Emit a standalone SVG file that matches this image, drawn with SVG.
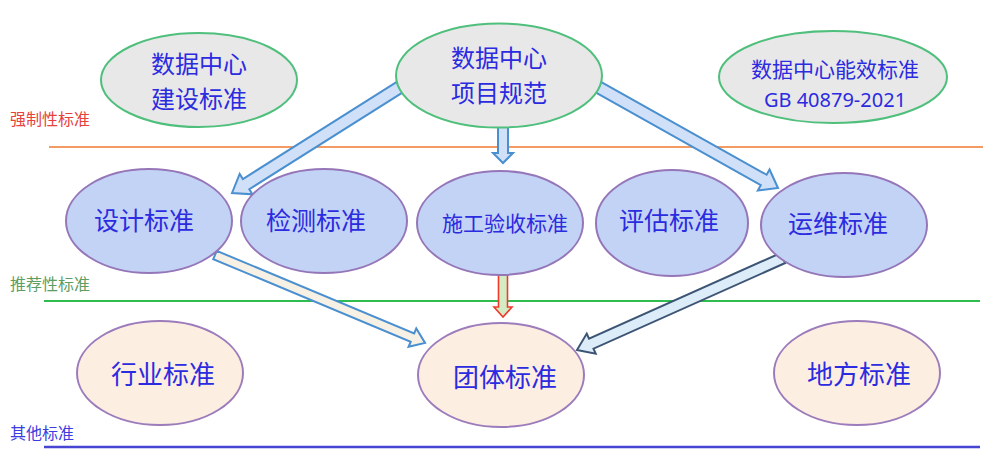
<svg xmlns="http://www.w3.org/2000/svg" width="1000" height="453" viewBox="0 0 1000 453">
<style>
text{font-family:"Noto Sans CJK SC","Noto Sans",sans-serif;}
.t{fill:#2b2be0;text-anchor:middle;dominant-baseline:central;}
.lat{font-family:"Noto Sans","Noto Sans CJK SC",sans-serif;}
.top{fill:#e8e8e8;stroke:#4fbf7c;stroke-width:2;}
.mid{fill:#c3d3f5;stroke:#9576b8;stroke-width:2;}
.bot{fill:#fdeee2;stroke:#9d7cbc;stroke-width:2;}
.lbl{font-size:16px;}
.a1{fill:#cfe0f8;stroke:#4a8fcf;stroke-width:2;stroke-linejoin:miter;}
.a4{fill:#f6f1e4;stroke:#4a8fcf;stroke-width:2;}
.a5{fill:#d4ecc4;stroke:#ee3b2c;stroke-width:1.6;}
.a6{fill:#dcecf8;stroke:#3d5574;stroke-width:2;}
</style>
<rect width="1000" height="453" fill="#ffffff"/>
<g id="tiers">
<line x1="49" y1="147" x2="983" y2="147" stroke="#f07a30" stroke-width="1.5"/>
<line x1="44" y1="301" x2="980" y2="301" stroke="#2ebd4e" stroke-width="2"/>
<line x1="44" y1="447" x2="980" y2="447" stroke="#4646d2" stroke-width="2.5"/>
<text class="lbl" x="10" y="125" fill="#e8403c">强制性标准</text>
<text class="lbl" x="10" y="290" fill="#5e9e62">推荐性标准</text>
<text class="lbl" x="10" y="439" fill="#3c3ce0">其他标准</text>
</g>
<g id="connectors">
<path class="a1" transform="translate(400,87) rotate(147.75)" d="M0,-6 L182,-6 L182,-12 L198.6,0 L182,12 L182,6 L0,6 Z"/>
<path class="a1" transform="translate(503,126) rotate(90)" d="M0,-5 L27,-5 L27,-10 L37,0 L27,10 L27,5 L0,5 Z"/>
<path class="a1" transform="translate(598,87) rotate(29.3)" d="M0,-6 L190,-6 L190,-12 L206.4,0 L190,12 L190,6 L0,6 Z"/>
<path class="a4" transform="translate(215,255) rotate(22.7)" d="M0,-4.5 L214,-4.5 L214,-10 L227.7,0 L214,10 L214,4.5 L0,4.5 Z"/>
<path class="a5" transform="translate(503,274) rotate(90)" d="M0,-4.5 L33,-4.5 L33,-9 L43,0 L33,9 L33,4.5 L0,4.5 Z"/>
<path class="a6" transform="translate(783,258) rotate(155.94)" d="M0,-5.5 L210,-5.5 L210,-11 L225.6,0 L210,11 L210,5.5 L0,5.5 Z"/>
</g>
<g id="n-jianshe">
<ellipse class="top" cx="199" cy="80" rx="98" ry="47"/>
<text class="t" x="199" y="62" font-size="24">数据中心</text>
<text class="t" x="199" y="97" font-size="24">建设标准</text>
</g>
<g id="n-xiangmu">
<ellipse class="top" cx="499" cy="75.5" rx="103" ry="52"/>
<text class="t" x="499" y="56" font-size="24">数据中心</text>
<text class="t" x="499" y="91" font-size="24">项目规范</text>
</g>
<g id="n-nengxiao">
<ellipse class="top" cx="833" cy="77" rx="114" ry="46"/>
<text class="t" x="835" y="68" font-size="21">数据中心能效标准</text>
<text class="t lat" x="835" y="99" font-size="20">GB 40879-2021</text>
</g>
<g id="n-sheji">
<ellipse class="mid" cx="149" cy="221" rx="83" ry="52"/>
<text class="t" x="144" y="219" font-size="25">设计标准</text>
</g>
<g id="n-jiance">
<ellipse class="mid" cx="324" cy="221" rx="83" ry="52"/>
<text class="t" x="316" y="219" font-size="25">检测标准</text>
</g>
<g id="n-shigong">
<ellipse class="mid" cx="500" cy="223" rx="83" ry="52"/>
<text class="t" x="505" y="222" font-size="21">施工验收标准</text>
</g>
<g id="n-pinggu">
<ellipse class="mid" cx="672" cy="223" rx="76" ry="53"/>
<text class="t" x="669" y="219" font-size="25">评估标准</text>
</g>
<g id="n-yunwei">
<ellipse class="mid" cx="844" cy="225" rx="83" ry="52"/>
<text class="t" x="838" y="222" font-size="25">运维标准</text>
</g>
<g id="n-hangye">
<ellipse class="bot" cx="160" cy="373" rx="83" ry="52"/>
<text class="t" x="163" y="372" font-size="26">行业标准</text>
</g>
<g id="n-tuanti">
<ellipse class="bot" cx="501" cy="375" rx="83" ry="52"/>
<text class="t" x="505" y="375" font-size="26">团体标准</text>
</g>
<g id="n-difang">
<ellipse class="bot" cx="857" cy="373" rx="83" ry="52"/>
<text class="t" x="859" y="372" font-size="26">地方标准</text>
</g>
</svg>
